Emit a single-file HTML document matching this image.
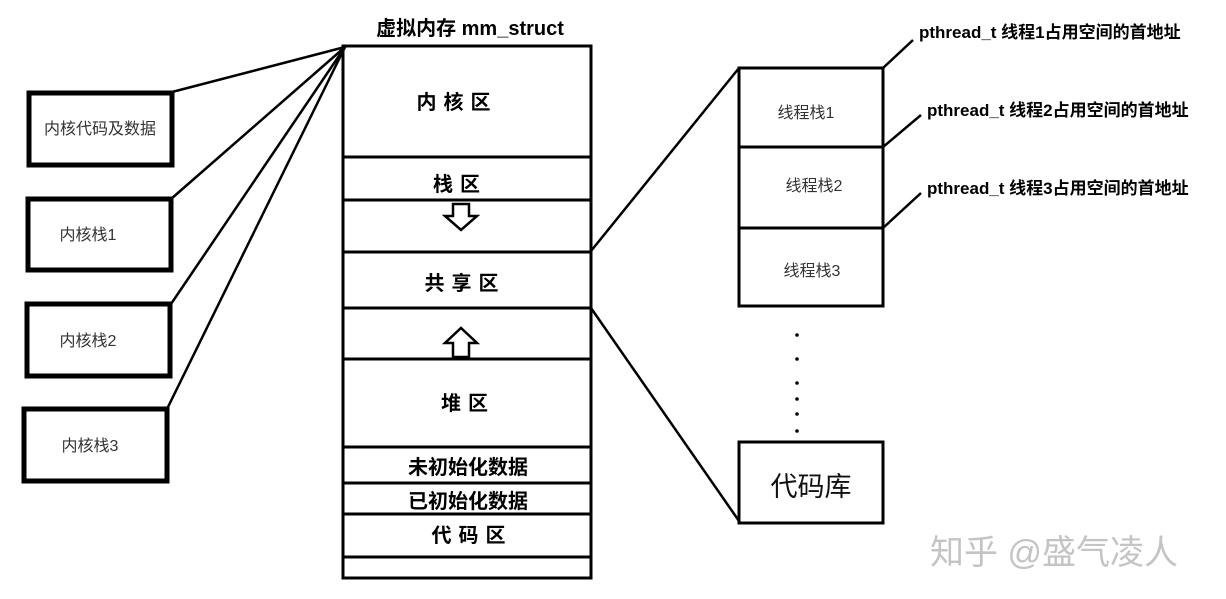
<!DOCTYPE html>
<html><head><meta charset="utf-8"><style>
body{margin:0;background:#fff;width:1226px;height:594px;overflow:hidden}
svg text{font-family:"Liberation Sans","Noto Sans CJK SC",sans-serif}
</style></head><body>
<svg width="1226" height="594" viewBox="0 0 1226 594" xmlns="http://www.w3.org/2000/svg">
<g stroke="#000" fill="none">
<rect x="343" y="46" width="248" height="532" stroke-width="3"/>
<g stroke-width="3">
<line x1="343" y1="157" x2="591" y2="157"/>
<line x1="343" y1="200" x2="591" y2="200"/>
<line x1="343" y1="252" x2="591" y2="252"/>
<line x1="343" y1="308" x2="591" y2="308"/>
<line x1="343" y1="359" x2="591" y2="359"/>
<line x1="343" y1="447" x2="591" y2="447"/>
<line x1="343" y1="483" x2="591" y2="483"/>
<line x1="343" y1="514" x2="591" y2="514"/>
<line x1="343" y1="557" x2="591" y2="557"/>
</g>
<path d="M453 204 H469 V216 H477 L461 230 L445 216 H453 Z" stroke-width="2.5"/>
<path d="M453 357 V343 H445 L461 328 L477 343 H469 V357 Z" stroke-width="2.5"/>
<rect x="29" y="93" width="143" height="72" stroke-width="5"/>
<rect x="28" y="199" width="143" height="71" stroke-width="5"/>
<rect x="27" y="304" width="143" height="72" stroke-width="5"/>
<rect x="24" y="409" width="143" height="72" stroke-width="5"/>
<g stroke-width="2.5">
<line x1="345" y1="47" x2="172" y2="92"/>
<line x1="345" y1="47" x2="171" y2="199"/>
<line x1="345" y1="47" x2="171" y2="304"/>
<line x1="345" y1="47" x2="167" y2="409"/>
</g>
<rect x="739" y="68" width="144" height="238" stroke-width="3"/>
<line x1="739" y1="147" x2="883" y2="147" stroke-width="3"/>
<line x1="739" y1="228" x2="883" y2="228" stroke-width="3"/>
<rect x="739" y="442" width="144" height="81" stroke-width="3"/>
<g stroke-width="2.5">
<line x1="591" y1="251" x2="739" y2="68"/>
<line x1="591" y1="308" x2="739" y2="521"/>
<line x1="883" y1="68" x2="913" y2="40"/>
<line x1="883" y1="147" x2="921" y2="115"/>
<line x1="883" y1="228" x2="921" y2="193"/>
</g>
</g>
<g fill="#000">
<circle cx="797" cy="335" r="1.8"/><circle cx="797" cy="359" r="1.8"/><circle cx="797" cy="383" r="1.8"/>
<circle cx="797" cy="399" r="1.8"/><circle cx="797" cy="414" r="1.8"/><circle cx="797" cy="431" r="1.8"/>
</g>
<g font-weight="bold" font-size="20" text-anchor="middle" fill="#000">
<text x="470" y="35" font-size="20">虚拟内存  mm_struct</text>
<text x="457" y="109" letter-spacing="7">内核区</text>
<text x="460" y="191" letter-spacing="7">栈区</text>
<text x="465" y="290" letter-spacing="7">共享区</text>
<text x="468" y="410" letter-spacing="7">堆区</text>
<text x="468" y="474">未初始化数据</text>
<text x="468" y="508">已初始化数据</text>
<text x="472" y="542" letter-spacing="7">代码区</text>
</g>
<g font-weight="bold" font-size="17" fill="#000">
<text x="919" y="38">pthread_t 线程1占用空间的首地址</text>
<text x="927" y="116">pthread_t 线程2占用空间的首地址</text>
<text x="927" y="194">pthread_t 线程3占用空间的首地址</text>
</g>
<g font-size="16" fill="#333" text-anchor="middle">
<text x="100" y="134">内核代码及数据</text>
<text x="88" y="240">内核栈1</text>
<text x="88" y="346">内核栈2</text>
<text x="90" y="451">内核栈3</text>
<text x="806" y="118">线程栈1</text>
<text x="814" y="191">线程栈2</text>
<text x="812" y="276">线程栈3</text>
</g>
<text x="811" y="496" font-size="27" text-anchor="middle" fill="#111">代码库</text>
<text x="930" y="564" font-size="34" fill="#c4c4c4">知乎 @盛气凌人</text>
</svg>
</body></html>
